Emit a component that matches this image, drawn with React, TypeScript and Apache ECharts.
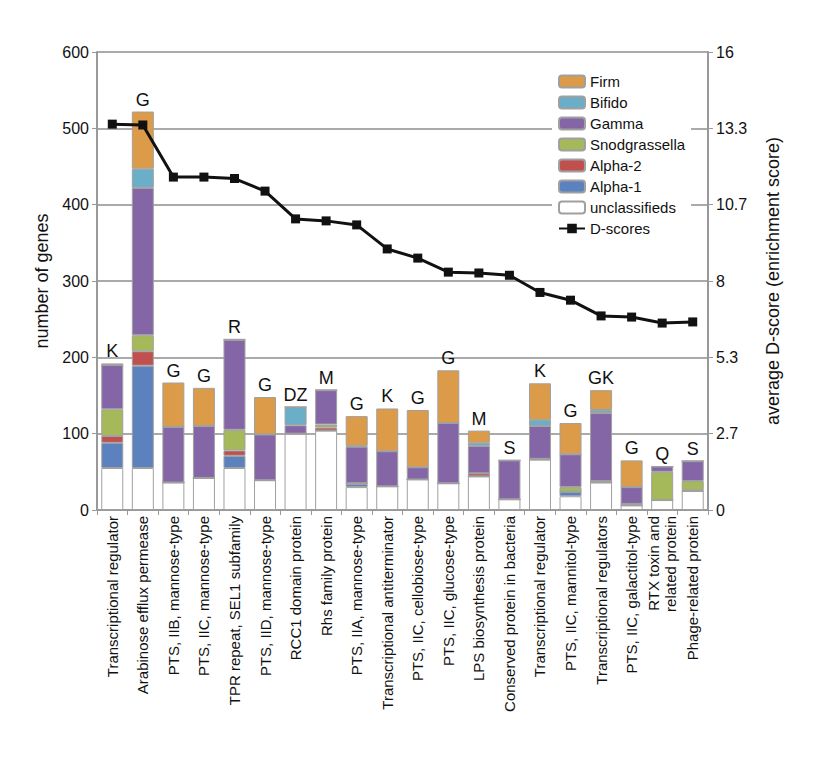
import React, { useEffect, useRef } from "react";
import * as echarts from "echarts";

const categories = [
  "Transcriptional regulator", "Arabinose efflux permease", "PTS, IIB, mannose-type", "PTS, IIC, mannose-type",
  "TPR repeat, SEL1 subfamily", "PTS, IID, mannose-type", "RCC1 domain protein", "Rhs family protein",
  "PTS, IIA, mannose-type", "Transcriptional antiterminator", "PTS, IIC, cellobiose-type", "PTS, IIC, glucose-type",
  "LPS biosynthesis protein", "Conserved protein in bacteria", "Transcriptional regulator", "PTS, IIC, mannitol-type",
  "Transcriptional regulators", "PTS, IIC, galactitol-type", "RTX toxin and\nrelated protein", "Phage-related protein",
];
const cogLetters = ["K","G","G","G","R","G","DZ","M","G","K","G","G","M","S","K","G","GK","G","Q","S"];
const unclassifieds = [55,55,36,42,55,39,100,104,30,31,40,35,44,14,66,18,36,6,13,25];
const alpha1 = [33,134,0,0,16,0,0,0,4,0,0,0,0,0,0,6,0,0,0,0];
const alpha2 = [9,19,0,0,7,0,0,4,1,0,0,0,4,0,1,0,2,2,0,1];
const snodgrassella = [35,21,0,0,27,0,0,4,0,0,0,0,0,0,0,6,0,0,37,12];
const gamma = [58,193,73,68,118,60,11,45,48,46,16,79,36,51,43,43,89,22,7,26];
const bifido = [0,25,0,0,0,0,24,0,1,0,0,0,4,0,8,0,4,0,0,0];
const firm = [2,75,58,50,1,49,0,0,39,56,75,69,16,0,48,41,26,35,0,0];
const dScores = [13.48,13.45,11.63,11.63,11.58,11.14,10.17,10.1,9.96,9.12,8.8,8.31,8.28,8.2,7.6,7.33,6.78,6.74,6.53,6.57];
const rightTicks = ["0","2.7","5.3","8","10.7","13.3","16"];

export default function App() {
  const ref = useRef<HTMLDivElement>(null);
  useEffect(() => {
    const chart = echarts.init(ref.current!, undefined, { renderer: "svg" });
    const font = "Liberation Sans, Arial, sans-serif";
    const seg = (name: string, data: number[], color: string) => ({
      name, type: "bar", stack: "s", data, barWidth: "72%",
      itemStyle: { color, borderColor: "#a0a0a0", borderWidth: 1 },
    });
    chart.setOption({
      animation: false,
      textStyle: { fontFamily: font },
      grid: { left: 89, right: 99, top: 44, bottom: 264 },
      legend: {
        orient: "vertical", left: 544, top: 62, itemGap: 6, itemWidth: 26, itemHeight: 12,
        backgroundColor: "#fff", padding: [4, 6],
        textStyle: { fontSize: 15, color: "#111", fontFamily: font },
        data: ["Firm","Bifido","Gamma","Snodgrassella","Alpha-2","Alpha-1","unclassifieds","D-scores"],
      },
      xAxis: {
        type: "category", data: categories,
        axisLine: { lineStyle: { color: "#999", width: 2 } },
        axisTick: { show: true, lineStyle: { color: "#999" } },
        axisLabel: { rotate: 90, interval: 0, fontSize: 15, color: "#111", margin: 6, lineHeight: 17 },
      },
      yAxis: [
        {
          type: "value", min: 0, max: 600, interval: 100, name: "number of genes",
          nameLocation: "middle", nameGap: 46, nameTextStyle: { fontSize: 18, color: "#111" },
          axisLine: { show: true, lineStyle: { color: "#999", width: 2 } },
          axisTick: { show: true, lineStyle: { color: "#999" } },
          axisLabel: { fontSize: 16, color: "#111" },
          splitLine: { lineStyle: { color: "#aaa", width: 2 } },
        },
        {
          type: "value", min: 0, max: 16, interval: 16 / 6, name: "average D-score (enrichment score)",
          nameLocation: "middle", nameGap: 56, nameRotate: 90, nameTextStyle: { fontSize: 18, color: "#111" },
          axisLine: { show: true, lineStyle: { color: "#999", width: 2 } },
          axisTick: { show: true, lineStyle: { color: "#999" } },
          axisLabel: { fontSize: 16, color: "#111", formatter: (_v: number, i: number) => rightTicks[i] },
          splitLine: { show: false },
        },
      ],
      series: [
        seg("unclassifieds", unclassifieds, "#ffffff"),
        seg("Alpha-1", alpha1, "#5b82be"),
        seg("Alpha-2", alpha2, "#c0504d"),
        seg("Snodgrassella", snodgrassella, "#a5b95a"),
        seg("Gamma", gamma, "#8466a6"),
        seg("Bifido", bifido, "#6aaec8"),
        seg("Firm", firm, "#db9b48"),
        {
          name: "labels", type: "bar", stack: "s", data: cogLetters.map(() => 0),
          itemStyle: { color: "transparent" },
          label: { show: true, position: "top", fontSize: 18, color: "#111", distance: 3,
            formatter: (p: any) => cogLetters[p.dataIndex] },
        },
        {
          name: "D-scores", type: "line", yAxisIndex: 1, data: dScores,
          symbol: "rect", symbolSize: 9, z: 10,
          lineStyle: { color: "#111", width: 3 }, itemStyle: { color: "#111" },
        },
      ],
    });
    return () => chart.dispose();
  }, []);
  return <div ref={ref} style={{ width: 799, height: 766 }} />;
}
